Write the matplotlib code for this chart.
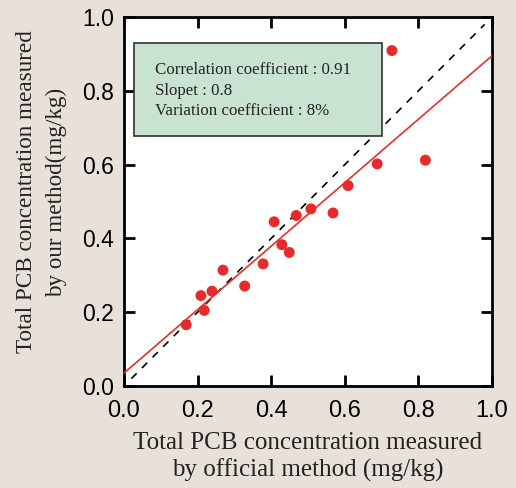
import matplotlib
matplotlib.use("Agg")
import matplotlib.pyplot as plt
import numpy as np
from matplotlib.patches import Rectangle

# Data
official = [0.169, 0.209, 0.218, 0.239, 0.269, 0.328, 0.378, 0.408, 0.429, 0.449,
            0.468, 0.508, 0.568, 0.609, 0.688, 0.728, 0.819]
ours = [0.166, 0.245, 0.205, 0.257, 0.314, 0.271, 0.331, 0.445, 0.383, 0.362,
        0.462, 0.480, 0.469, 0.543, 0.602, 0.909, 0.612]
fit_slope = 0.86
fit_intercept = 0.035
ticks = [0.0, 0.2, 0.4, 0.6, 0.8, 1.0]
tick_labels = ["0.0", "0.2", "0.4", "0.6", "0.8", "1.0"]
box_lines = ["Correlation coefficient : 0.91", "Slopet : 0.8", "Variation coefficient : 8%"]

bg = "#e8e1da"
fig = plt.figure(figsize=(5.16, 4.88), dpi=100, facecolor=bg)
ax = fig.add_axes([124/516, (488-386)/488, 368/516, 369/488])
ax.set_facecolor("white")

ax.set_xlim(0, 1)
ax.set_ylim(0, 1)

# identity dashed line
ax.plot([0.02, 0.98], [0.02, 0.98], color="black", lw=1.2, ls=(0, (4.5, 4.5)), zorder=2)
# fit line
xf = np.array([0.0, 1.0])
ax.plot(xf, fit_intercept + fit_slope * xf, color="#e8302a", lw=1.2, zorder=3)

ax.scatter(official, ours, s=62, color="#e52b2b", edgecolors="none", zorder=4)

# text box
ax.add_patch(Rectangle((0.027, 0.678), 0.673, 0.252, transform=ax.transAxes,
                       facecolor="#c9e3d3", edgecolor="#333333", lw=1.2, zorder=5))
for i, line in enumerate(box_lines):
    ax.text(0.084, 0.856 - i * 0.0555, line, transform=ax.transAxes,
            family="Liberation Serif", fontsize=12.2, color="#222222",
            ha="left", va="center", zorder=6)

ax.set_xticks(ticks)
ax.set_yticks(ticks)
ax.set_xticklabels(tick_labels, family="Liberation Sans", fontsize=17)
ax.set_yticklabels(tick_labels, family="Liberation Sans", fontsize=16.5)
ax.tick_params(direction="in", length=8, width=2, top=True, right=True,
               labeltop=False, labelright=False)
ax.tick_params(axis="x", pad=10)
ax.tick_params(axis="y", pad=7)
for s in ax.spines.values():
    s.set_linewidth(2)

fig.text(308/516, (488-457)/488,
         "Total PCB concentration measured\nby official method (mg/kg)",
         family="Liberation Serif", fontsize=18, ha="center", va="center",
         multialignment="center", color="#222222", linespacing=1.2)
fig.text(42/516, (488-192)/488,
         "Total PCB concentration measured\nby our method(mg/kg)",
         family="Liberation Serif", fontsize=16.7, ha="center", va="center",
         multialignment="center", rotation=90, color="#222222", linespacing=1.55)

fig.savefig("out.png", dpi=100, facecolor=bg)
